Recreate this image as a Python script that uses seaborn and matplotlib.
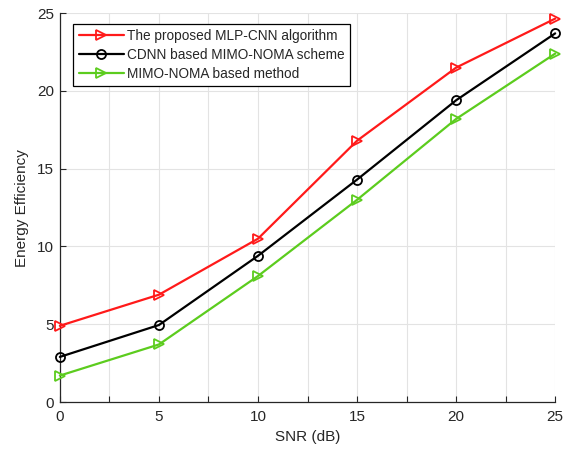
import matplotlib
matplotlib.use("Agg")
import matplotlib.pyplot as plt
import seaborn as sns
import pandas as pd
from matplotlib.ticker import MultipleLocator

snr_db = [0, 5, 10, 15, 20, 25]
mlp_cnn = [4.9, 6.9, 10.5, 16.8, 21.5, 24.65]
cdnn = [2.9, 4.95, 9.4, 14.3, 19.4, 23.7]
mimo_noma = [1.7, 3.7, 8.1, 13.0, 18.2, 22.4]

series_names = [
    "The proposed MLP-CNN algorithm",
    "CDNN based MIMO-NOMA scheme",
    "MIMO-NOMA based method",
]
series_values = [mlp_cnn, cdnn, mimo_noma]
colors = ["#ff1a1a", "#000000", "#5ccc1e"]
markers = [">", "o", ">"]

sns.set_theme(style="white")
plt.rcParams["font.family"] = ["Liberation Sans", "DejaVu Sans"]

fig = plt.figure(figsize=(5.7, 4.54), dpi=100)
ax = fig.add_axes([0.105, 0.1145, 0.869, 0.8565])

for name, vals, c, m in zip(series_names, series_values, colors, markers):
    df = pd.DataFrame({"SNR (dB)": snr_db, "Energy Efficiency": vals})
    sns.lineplot(data=df, x="SNR (dB)", y="Energy Efficiency", ax=ax,
                 color=c, marker=m, markersize=6.5, markerfacecolor="none",
                 markeredgecolor=c, markeredgewidth=1.3, linewidth=1.6,
                 label=name, clip_on=False, zorder=3)

ax.set_xlim(0, 25)
ax.set_ylim(0, 25)
ax.xaxis.set_major_locator(MultipleLocator(5))
ax.xaxis.set_minor_locator(MultipleLocator(2.5))
ax.yaxis.set_major_locator(MultipleLocator(5))
ax.grid(True, which="major", color="#e3e3e3", linewidth=0.8)
ax.grid(True, which="minor", axis="x", color="#e3e3e3", linewidth=0.8)
ax.set_axisbelow(True)

for s in ["top", "right"]:
    ax.spines[s].set_visible(False)
for s in ["left", "bottom"]:
    ax.spines[s].set_color("#262626")
    ax.spines[s].set_linewidth(0.9)

ax.tick_params(axis="both", which="both", direction="in", colors="#262626",
               labelsize=11, length=4, width=0.8)
ax.tick_params(axis="x", which="both", bottom=True, pad=6)
ax.tick_params(axis="y", which="both", left=True, pad=4)
ax.tick_params(axis="x", which="minor", length=4)

ax.set_xlabel("SNR (dB)", fontsize=11, color="#262626", labelpad=4)
ax.set_ylabel("Energy Efficiency", fontsize=11, color="#262626", labelpad=6)

leg = ax.legend(loc="upper left", bbox_to_anchor=(0.022, 0.98), fontsize=9.8,
                frameon=True, fancybox=False, edgecolor="#000000",
                handlelength=3.3, borderpad=0.4, labelspacing=0.35,
                handletextpad=0.2, borderaxespad=0.2, framealpha=1)
leg.get_frame().set_linewidth(0.9)

fig.savefig("out.png", dpi=100, facecolor="white")
